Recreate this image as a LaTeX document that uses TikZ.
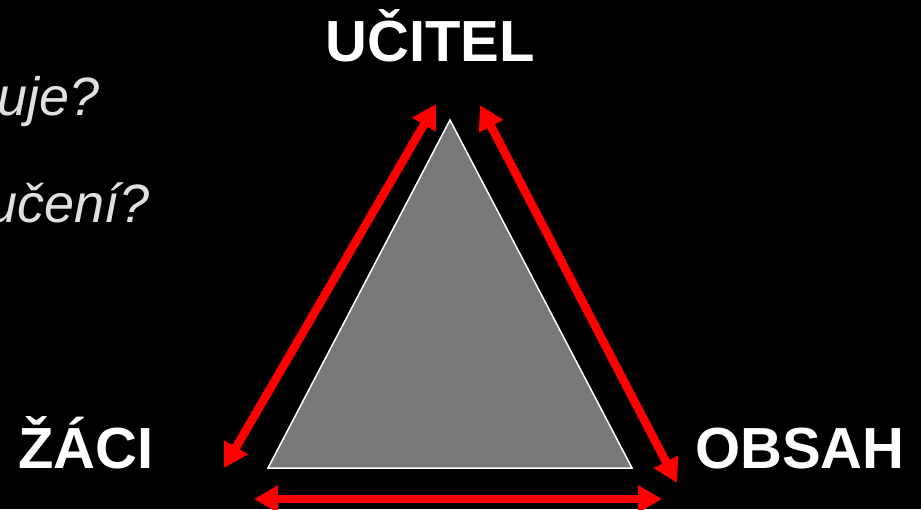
\documentclass[tikz,border=0pt]{standalone}
\usepackage{fontspec}
\setmainfont{Liberation Sans}
\usetikzlibrary{arrows.meta}

\begin{document}
\begin{tikzpicture}[
  x=1pt, y=-1pt,
  title/.style={text=white, font=\fontsize{58}{62}\selectfont\bfseries, inner sep=0pt},
  question/.style={text=black!12, font=\fontsize{54}{60}\selectfont\itshape, inner sep=0pt, anchor=base east},
  link/.style={draw=red, line width=8.5pt, {Triangle[length=24pt,width=26pt]}-{Triangle[length=24pt,width=26pt]}}
]
\fill[black] (0,0) rectangle (921,509);
\useasboundingbox (0,0) rectangle (921,509);
\clip (0,0) rectangle (921,509);

% questions cut off at the left edge
\node[question] (q1) at (100,115) {uje?};
\node[question] (q2) at (150,222) {učení?};

% triangle
\coordinate (apex) at (450,120);
\coordinate (bl) at (268,468);
\coordinate (br) at (632,468);
\draw[white, fill=black!53, line width=1.5pt] (apex) -- (br) -- (bl) -- cycle;

% corners
\node[title, anchor=base] (ucitel) at (430,61) {UČITEL};
\node[title, anchor=base] (zaci) at (86,468) {ŽÁCI};
\node[title, anchor=base] (obsah) at (800,468) {OBSAH};

% arrow ends
\coordinate (l1) at (224,468);
\coordinate (l2) at (436,104);
\coordinate (r1) at (480,105);
\coordinate (r2) at (677,483);
\coordinate (b1) at (254,499);
\coordinate (b2) at (662,499);

\draw[link] (l1) -- (l2);
\draw[link] (r1) -- (r2);
\draw[link] (b1) -- (b2);
\end{tikzpicture}
\end{document}
